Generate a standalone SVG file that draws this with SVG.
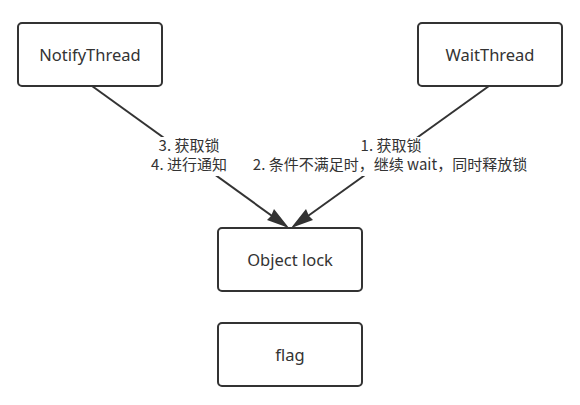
<svg xmlns="http://www.w3.org/2000/svg" width="580" height="405" viewBox="0 0 580 405">
<style>
.box{fill:#fff;stroke:#333;stroke-width:2}
.t{font-family:"Noto Sans","Noto Sans CJK SC",sans-serif;font-size:16.5px;fill:#333;text-anchor:middle}
.lbl{font-family:"Noto Sans CJK SC","Noto Sans",sans-serif;font-size:15px;fill:#333;text-anchor:middle}
.edge{stroke:#333;stroke-width:2;fill:none}
.head{fill:#333}
</style>
<rect width="580" height="405" fill="#fff"/>
<g id="connectors">
<path class="edge" d="M92,86 L286,226"/>
<path class="edge" d="M489,86 L294,226"/>
<path class="head" d="M289,228 L274,209 L271,216 L267,220 Z"/>
<path class="head" d="M291,228 L306,209 L309,216 L313,220 Z"/>
<rect x="145" y="137" width="88" height="39" fill="#fff"/>
<rect x="248" y="137" width="286" height="39" fill="#fff"/>
<text class="lbl" x="189" y="151">3. 获取锁</text>
<text class="lbl" x="189" y="170">4. 进行通知</text>
<text class="lbl" x="391" y="151">1. 获取锁</text>
<text class="lbl" x="390" y="170">2. 条件不满足时，继续 wait，同时释放锁</text>
</g>
<g id="notify">
<rect class="box" x="18" y="23" width="144" height="63" rx="4"/>
<text class="t" x="90" y="61">NotifyThread</text>
</g>
<g id="wait">
<rect class="box" x="418" y="23" width="144" height="63" rx="4"/>
<text class="t" x="490" y="61">WaitThread</text>
</g>
<g id="objectlock">
<rect class="box" x="218" y="228" width="144" height="63" rx="4"/>
<text class="t" x="290" y="266">Object lock</text>
</g>
<g id="flag">
<rect class="box" x="218" y="323" width="144" height="63" rx="4"/>
<text class="t" x="290" y="361">flag</text>
</g>
</svg>
